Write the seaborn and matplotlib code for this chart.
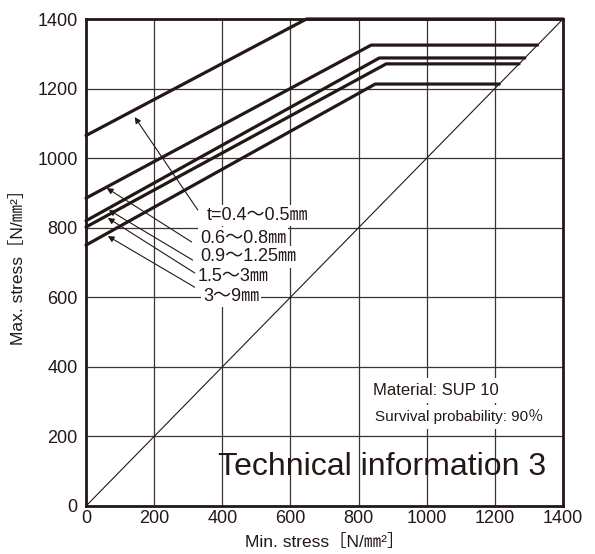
import matplotlib
matplotlib.use("Agg")
import matplotlib.pyplot as plt
import seaborn as sns
import pandas as pd

# ---- data ----
series_labels = ["t=0.4〜0.5㎜", "0.6〜0.8㎜", "0.9〜1.25㎜", "1.5〜3㎜", "3〜9㎜"]
start_max = [1065, 885, 820, 802, 750]        # max stress at min stress = 0
knee_min = [647, 837, 861, 881, 849]           # min stress where the line flattens
plateau_max = [1400, 1325, 1288, 1271, 1213]   # plateau max stress
end_min = [1400, 1325, 1288, 1271, 1213]       # plateau ends on diagonal
diag_vals = [0, 1400]

arrow_tips = [(143, 1118), (61, 914), (67, 851), (64, 828), (64, 776)]
arrow_tails = [(328, 851), (310, 759), (313, 707), (319, 670), (319, 629)]
label_pos = [(354, 836), (334, 770), (334, 716), (328, 661), (343, 603)]

x_ticks = [0, 200, 400, 600, 800, 1000, 1200, 1400]
y_ticks = [0, 200, 400, 600, 800, 1000, 1200, 1400]

rows = []
for lab, s, kx, p, ex in zip(series_labels, start_max, knee_min, plateau_max, end_min):
    rows += [dict(series=lab, x=0, y=s),
             dict(series=lab, x=kx, y=p),
             dict(series=lab, x=ex, y=p)]
df = pd.DataFrame(rows)

sns.set_theme(style="white")
plt.rcParams["font.family"] = ["Liberation Sans", "Noto Sans CJK JP", "DejaVu Sans"]
INK = "#231815"

fig = plt.figure(figsize=(5.95, 5.54), dpi=100)
ax = fig.add_axes([86/595, 1-506/554, (563-86)/595, (506-19)/554])

sns.lineplot(data=df, x="x", y="y", hue="series", palette=[INK]*5, units="series",
             estimator=None, sort=False, legend=False, lw=2.3, ax=ax, clip_on=False)
sns.lineplot(x=diag_vals, y=diag_vals, color=INK, lw=0.8, ax=ax)

ax.set_xlim(0, 1400)
ax.set_ylim(0, 1400)
ax.set_xticks(x_ticks)
ax.set_yticks(y_ticks)
ax.set_xticklabels([str(v) for v in x_ticks], fontsize=13, color=INK)
ax.set_yticklabels([str(v) for v in y_ticks], fontsize=13, color=INK)
ax.tick_params(axis="both", length=0)
ax.tick_params(axis="y", pad=6)
ax.tick_params(axis="x", pad=3)
ax.grid(True, color="#3a3432", lw=0.9)
ax.set_axisbelow(True)
for sp in ax.spines.values():
    sp.set_color(INK)
    sp.set_linewidth(2.0)

for tip, tail in zip(arrow_tips, arrow_tails):
    ax.annotate("", xy=tip, xytext=tail,
                arrowprops=dict(arrowstyle="-|>", color=INK, lw=0.8,
                                mutation_scale=9, shrinkA=0, shrinkB=0))
for lab, (lx, ly) in zip(series_labels, label_pos):
    ax.text(lx, ly, lab, fontsize=13, color=INK, ha="left", va="center",
            bbox=dict(boxstyle="square,pad=0.12", fc="white", ec="none"), zorder=5)

ax.text(843, 333, "Material: SUP 10", fontsize=12, color=INK,
        ha="left", va="center",
        bbox=dict(boxstyle="square,pad=0.3", fc="white", ec="none"), zorder=5)
ax.text(849, 256, "Survival probability: 90％", fontsize=11, color=INK,
        ha="left", va="center",
        bbox=dict(boxstyle="square,pad=0.3", fc="white", ec="none"), zorder=5)
ax.text(1350, 112, "Technical information 3", fontsize=23, color=INK,
        ha="right", va="center", zorder=5)

ax.set_xlabel("Min. stress［N/㎜²］", fontsize=12.5, color=INK, labelpad=5)
ax.set_ylabel("Max. stress［N/㎜²］", fontsize=12.5, color=INK, labelpad=8)

fig.savefig("out.png", dpi=100)
